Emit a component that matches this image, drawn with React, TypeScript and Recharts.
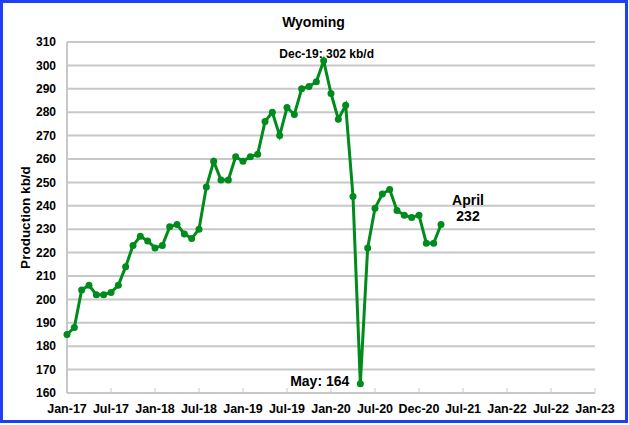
import { LineChart, Line, XAxis, YAxis, CartesianGrid, LabelList } from 'recharts';

// Wyoming oil production, kb/d, Jan-17 .. Apr-21 (one value per month)
const production = [
  185, 188, 204, 206, 202, 202, 203, 206, 214, 223, 227, 225,
  222, 223, 231, 232, 228, 226, 230, 248, 259, 251, 251, 261,
  259, 261, 262, 276, 280, 270, 282, 279, 290, 291, 293, 302,
  288, 277, 283, 244, 164, 222, 239, 245, 247, 238, 236, 235,
  236, 224, 224, 232,
];

const xTickLabels = [
  'Jan-17', 'Jul-17', 'Jan-18', 'Jul-18', 'Jan-19', 'Jul-19', 'Jan-20',
  'Jul-20', 'Dec-20', 'Jul-21', 'Jan-22', 'Jul-22', 'Jan-23',
];
const xTicks = xTickLabels.map((_, i) => i * 6);
const yTicks = [160, 170, 180, 190, 200, 210, 220, 230, 240, 250, 260, 270, 280, 290, 300, 310];

const peakIndex = 35;
const lowIndex = 40;
const lastIndex = production.length - 1;

const GREEN = '#008c1c';
const GRID = '#c8c8c8';
const FONT = '"Liberation Sans", Arial, sans-serif';

const data = production.map((value, idx) => ({ idx, value }));

function XTick({ x, y, payload }: any) {
  const label = xTickLabels[Math.round(payload.value / 6)];
  return (
    <g>
      <line x1={x} x2={x} y1={y} y2={y - 5} stroke={GRID} strokeWidth={1} />
      <text x={x} y={y + 20} textAnchor="middle" fontSize={12.5} fontWeight="bold" fill="#000" fontFamily={FONT}>
        {label}
      </text>
    </g>
  );
}

function Annotation({ x, y, index }: any) {
  const common = { fontWeight: 'bold', fill: '#000', fontFamily: FONT };
  if (index === peakIndex) {
    return (
      <text x={x + 3} y={y - 3} textAnchor="middle" fontSize={12} {...common}>
        Dec-19: {production[peakIndex]} kb/d
      </text>
    );
  }
  if (index === lowIndex) {
    return (
      <text x={x - 11} y={y + 2} textAnchor="end" fontSize={14} {...common}>
        May: {production[lowIndex]}
      </text>
    );
  }
  if (index === lastIndex) {
    return (
      <g>
        <text x={x + 27} y={y - 20} textAnchor="middle" fontSize={14} {...common}>April</text>
        <text x={x + 27} y={y - 4} textAnchor="middle" fontSize={14} {...common}>
          {production[lastIndex]}
        </text>
      </g>
    );
  }
  return null;
}

export default function App() {
  return (
    <div style={{ position: 'absolute', left: 0, top: 0, width: 629, height: 425, background: '#fff', fontFamily: FONT }}>
      <div
        style={{
          position: 'absolute',
          left: 0,
          top: 0,
          width: 628,
          height: 423,
          boxSizing: 'border-box',
          border: '3px solid #1d3ff5',
        }}
      />
      <div
        style={{
          position: 'absolute',
          left: 0,
          top: 14,
          width: 627,
          textAlign: 'center',
          fontSize: 14,
          fontWeight: 'bold',
          lineHeight: '16px',
        }}
      >
        Wyoming
      </div>
      <LineChart width={629} height={425} data={data} margin={{ top: 42, right: 34, bottom: 0, left: 0 }}>
        <CartesianGrid vertical={false} stroke={GRID} strokeWidth={2} />
        <XAxis
          dataKey="idx"
          type="number"
          domain={[0, 72]}
          ticks={xTicks}
          interval={0}
          height={32}
          stroke={GRID}
          strokeWidth={2}
          tickLine={false}
          tickSize={0}
          tickMargin={0}
          tick={<XTick />}
        />
        <YAxis
          domain={[160, 310]}
          ticks={yTicks}
          interval={0}
          width={67}
          stroke={GRID}
          strokeWidth={2}
          tickLine={false}
          tickSize={0}
          tickMargin={11}
          tick={{ fill: '#000', fontSize: 12, fontWeight: 'bold', fontFamily: FONT }}
          label={{
            value: 'Production kb/d',
            angle: -90,
            position: 'insideLeft',
            offset: 25,
            style: { textAnchor: 'middle', fontSize: 13.5, fontWeight: 'bold', fill: '#000', fontFamily: FONT },
          }}
        />
        <Line
          type="linear"
          dataKey="value"
          stroke={GREEN}
          strokeWidth={3}
          dot={{ r: 3.5, fill: GREEN, stroke: GREEN, strokeWidth: 0 }}
          isAnimationActive={false}
        >
          <LabelList dataKey="value" content={<Annotation />} />
        </Line>
      </LineChart>
    </div>
  );
}
